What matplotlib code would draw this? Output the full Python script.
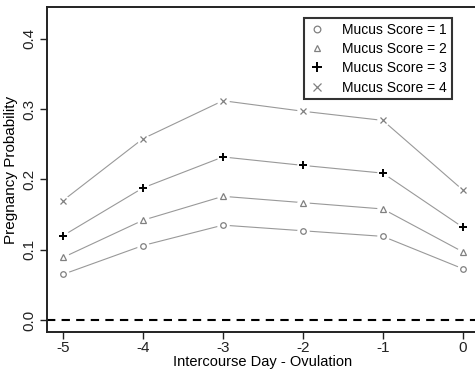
import numpy as np
import matplotlib.pyplot as plt

plt.rcParams['font.family'] = ['Liberation Sans', 'DejaVu Sans']

days = [-5, -4, -3, -2, -1, 0]
score1 = [0.065, 0.106, 0.135, 0.127, 0.119, 0.073]
score2 = [0.089, 0.142, 0.176, 0.167, 0.158, 0.097]
score3 = [0.120, 0.188, 0.232, 0.220, 0.209, 0.132]
score4 = [0.170, 0.258, 0.312, 0.297, 0.284, 0.185]
labels = ['Mucus Score = 1', 'Mucus Score = 2', 'Mucus Score = 3', 'Mucus Score = 4']

fig = plt.figure(figsize=(4.75, 3.7), dpi=100)
ax = fig.add_axes([0.099, 0.1035, 0.909, 0.877])

markers = ['o', '^', '+', 'x']
mcolors = ['#808080', '#808080', 'black', '#808080']
msizes = [4, 4, 6, 4.5]
handles = []
for ys, m, mc, ms, lab in zip([score1, score2, score3, score4], markers, mcolors, msizes, labels):
    ax.plot(days, ys, color='#999999', lw=0.8, zorder=2)
    # white patch under markers to imitate R's type="b" gaps
    ax.plot(days, ys, 'o', ms=9, mfc='white', mec='none', zorder=3)
    h, = ax.plot(days, ys, m, ms=ms, mfc='none', mec=mc, mew=0.9 if m != '+' else 1.4,
                 zorder=4, label=lab, linestyle='none')
    handles.append(h)

ax.axhline(0, color='black', ls=(0, (4, 3)), lw=1.5, zorder=1)

ax.set_xlim(-5.2, 0.2)
ax.set_ylim(-0.0166, 0.445)
ax.set_xticks(days)
ax.set_xticklabels(['-5', '-4', '-3', '-2', '-1', '0'])
ax.set_yticks([0.0, 0.1, 0.2, 0.3, 0.4])
ax.set_yticklabels(['0.0', '0.1', '0.2', '0.3', '0.4'], rotation=90, va='center')
ax.tick_params(labelsize=11, direction='out', length=5, width=1, colors='#222222')
ax.tick_params(axis='y', pad=3)
ax.tick_params(axis='x', pad=2)
for s in ['left', 'bottom', 'top']:
    ax.spines[s].set_linewidth(1.4)
    ax.spines[s].set_color('#222222')
ax.spines['right'].set_visible(False)

ax.set_ylabel('Pregnancy Probability', fontsize=11, labelpad=3)
ax.set_xlabel('Intercourse Day - Ovulation', fontsize=10.5, labelpad=0)

leg = ax.legend(handles=handles, loc='upper right', bbox_to_anchor=(0.937, 0.967),
                fontsize=10, frameon=True, fancybox=False, edgecolor='black',
                handlelength=1.2, handletextpad=1.2, borderpad=0.35, labelspacing=0.38,
                borderaxespad=0, markerscale=1.2)
leg.get_frame().set_linewidth(1.5)

fig.savefig('out.png', dpi=100)
